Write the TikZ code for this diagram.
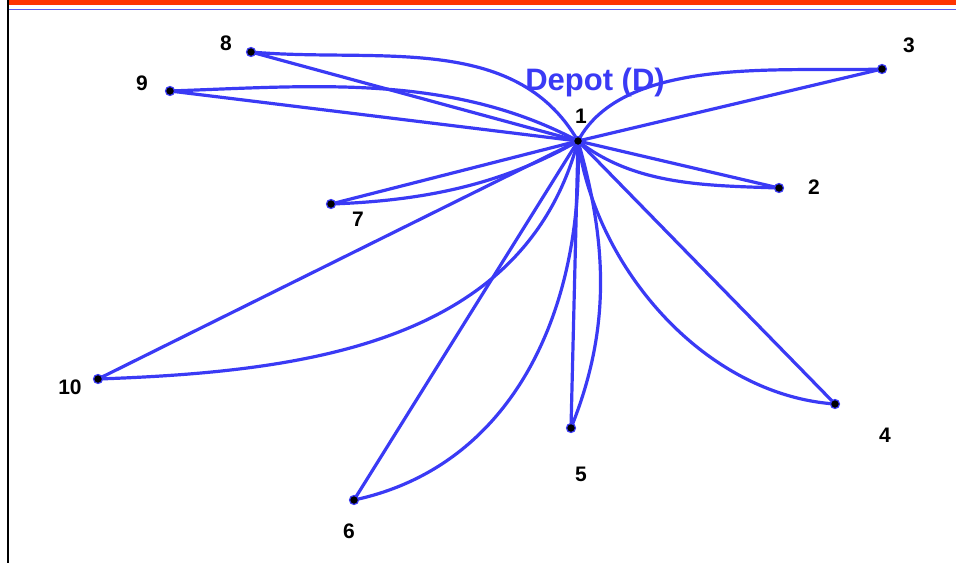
\documentclass[tikz,border=0pt]{standalone}
\usepackage{fontspec}
\setmainfont{Liberation Sans}
\definecolor{routeblue}{RGB}{58,58,245}
\definecolor{barred}{RGB}{255,51,0}
\definecolor{rulblue}{RGB}{90,90,235}
\begin{document}
\begin{tikzpicture}[x=1pt,y=1pt,
  route/.style={draw=routeblue,line width=3.2pt},
  dot/.style={circle,fill=black,draw=routeblue,line width=1.2pt,inner sep=0pt,minimum size=9pt},
  num/.style={font=\fontsize{21}{23}\selectfont\bfseries,text=black,inner sep=0pt},
]
\useasboundingbox (0,0) rectangle (956,-563);
% frame decoration
\fill[barred] (9,0) rectangle (956,-4.5);
\draw[rulblue,line width=1.6pt] (9,-9.5) -- (956,-9.5);
\draw[black,line width=2.6pt] (8,0) -- (8,-563);

% customer locations
\coordinate (p1) at (578,-141);
\coordinate (p2) at (779,-188);
\coordinate (p3) at (882,-69);
\coordinate (p4) at (835,-404);
\coordinate (p5) at (571,-428);
\coordinate (p6) at (354,-500);
\coordinate (p7) at (331,-204);
\coordinate (p8) at (251,-52);
\coordinate (p9) at (170,-91);
\coordinate (p10) at (98,-379);

% direct routes
\foreach \k in {2,...,10} {\draw[route] (p1) -- (p\k);}

% curved routes
\draw[route] (p1) to[out=120,in=-5,looseness=0.95] (p8);
\draw[route] (p1) to[out=152,in=2,looseness=0.9] (p9);
\draw[route] (p1) to[out=62,in=182,looseness=0.8] (p3);
\draw[route] (p1) to[out=-38,in=178,looseness=0.9] (p2);
\draw[route] (p1) to[out=-150,in=2,looseness=0.9] (p7);
\draw[route] (p1) to[out=-105,in=2,looseness=1.0] (p10);
\draw[route] (p1) to[out=-88,in=12,looseness=1.0] (p6);
\draw[route] (p1) to[out=-74,in=68,looseness=0.95] (p5);
\draw[route] (p1) to[out=-82,in=176,looseness=0.9] (p4);

% location markers
\foreach \k in {1,...,10} {\node[dot] (d\k) at (p\k) {};}

% labels
\node[num] (l1) at (581,-116) {1};
\node[num] (l2) at (814,-187) {2};
\node[num] (l3) at (909,-45) {3};
\node[num] (l4) at (885,-435) {4};
\node[num] (l5) at (581,-474) {5};
\node[num] (l6) at (349,-531) {6};
\node[num] (l7) at (358,-219) {7};
\node[num] (l8) at (226,-43) {8};
\node[num] (l9) at (142,-83) {9};
\node[num] (l10) at (70,-387) {10};
\node[font=\fontsize{31}{34}\selectfont\bfseries,text=routeblue,inner sep=0pt] (depot) at (595,-82) {Depot (D)};
\end{tikzpicture}
\end{document}
